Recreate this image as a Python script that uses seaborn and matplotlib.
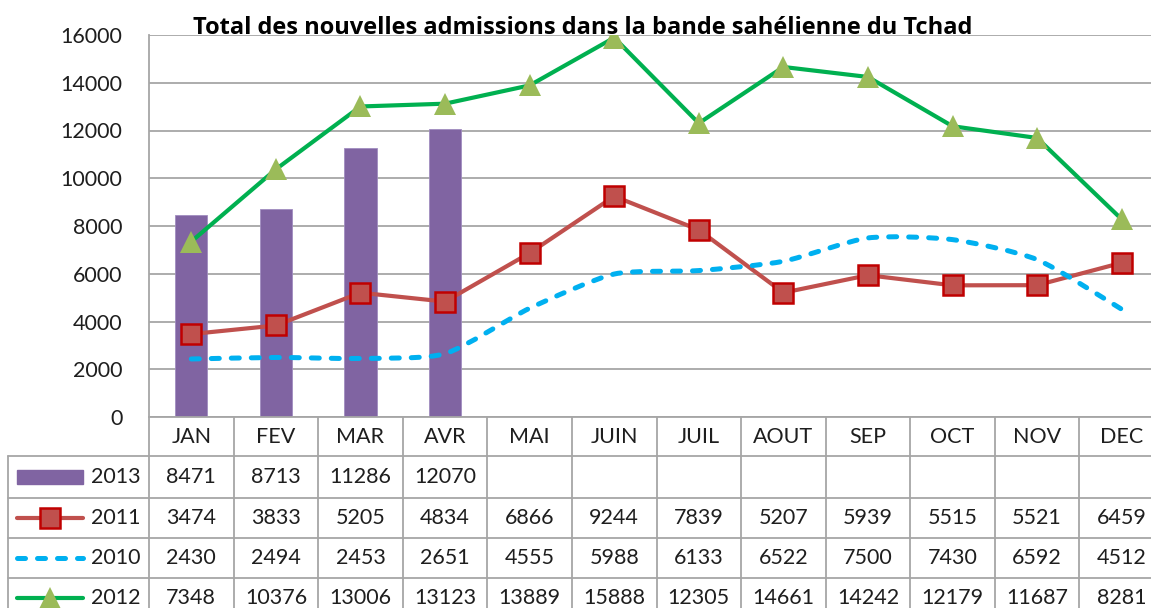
import numpy as np
import pandas as pd
import matplotlib
matplotlib.use("Agg")
import matplotlib.pyplot as plt
import seaborn as sns
from matplotlib.path import Path
from matplotlib.patches import PathPatch, Rectangle
from matplotlib.lines import Line2D
from matplotlib.transforms import blended_transform_factory

# ---------------- data ----------------
months = ["JAN", "FEV", "MAR", "AVR", "MAI", "JUIN", "JUIL", "AOUT", "SEP", "OCT", "NOV", "DEC"]
v2013 = [8471, 8713, 11286, 12070, np.nan, np.nan, np.nan, np.nan, np.nan, np.nan, np.nan, np.nan]
v2011 = [3474, 3833, 5205, 4834, 6866, 9244, 7839, 5207, 5939, 5515, 5521, 6459]
v2010 = [2430, 2494, 2453, 2651, 4555, 5988, 6133, 6522, 7500, 7430, 6592, 4512]
v2012 = [7348, 10376, 13006, 13123, 13889, 15888, 12305, 14661, 14242, 12179, 11687, 8281]
series_names = ["2013", "2011", "2010", "2012"]
yticks = list(range(0, 16001, 2000))
title = "Total des nouvelles admissions dans la bande sahélienne du Tchad"

C_BAR = "#8064A2"
C_2011 = "#C0504D"
C_2011_EDGE = "#C00000"
C_2010 = "#00B0F0"
C_2012 = "#00B050"
C_2012_MK = "#9BBB59"
C_GRID = "#A6A6A6"
C_TXT = "#1E1E1E"
FS = 15.5

sns.set_theme(style="white")
plt.rcParams["font.family"] = ["Lato", "DejaVu Sans"]

W, H = 1151, 608
fig = plt.figure(figsize=(W / 100, H / 100), dpi=100)
fig.patch.set_facecolor("white")

PL, PR, PT, PB = 149, 1164, 35, 417
ax = fig.add_axes([PL / W, (H - PB) / H, (PR - PL) / W, (PB - PT) / H])
ax.set_facecolor("white")

x = np.arange(len(months))
df = pd.DataFrame({"month": months, "v": v2013})
sns.barplot(data=df, x="month", y="v", order=months, ax=ax, color=C_BAR,
            saturation=1, width=0.38, edgecolor="#A08CC0", linewidth=0.6, zorder=2)

sns.lineplot(x=x, y=v2011, ax=ax, color=C_2011, lw=3.0, marker="s", markersize=14,
             markerfacecolor=C_2011, markeredgecolor=C_2011_EDGE, markeredgewidth=1.8,
             zorder=3, legend=False)

# smoothed (Excel-style) curve for 2010
P = np.column_stack([x, np.array(v2010, dtype=float)])
verts = [P[0]]
codes = [Path.MOVETO]
n = len(P)
k = 1.0 / 9.0
for i in range(n - 1):
    p0 = P[i - 1] if i > 0 else P[i]
    p1 = P[i]
    p2 = P[i + 1]
    p3 = P[i + 2] if i + 2 < n else P[i + 1]
    c1 = p1 + (p2 - p0) * k
    c2 = p2 - (p3 - p1) * k
    verts += [c1, c2, p2]
    codes += [Path.CURVE4] * 3
DASH = (0, (1.6, 2.4))
patch = PathPatch(Path(verts, codes), fill=False, edgecolor=C_2010, lw=3.6,
                  linestyle=DASH, capstyle="round", zorder=4)
ax.add_patch(patch)

sns.lineplot(x=x, y=v2012, ax=ax, color=C_2012, lw=3.0, marker="^", markersize=16,
             markerfacecolor=C_2012_MK, markeredgecolor=C_2012_MK, markeredgewidth=0,
             zorder=5, legend=False)

ax.set_xlim(-0.5, len(months) - 0.5)
ax.set_ylim(0, 16000)
ax.set_yticks(yticks)
ax.set_yticklabels([str(t) for t in yticks], fontsize=FS, color=C_TXT)
ax.tick_params(axis="y", length=0, pad=19)
ax.set_xticks([])
ax.set_xlabel("")
ax.set_ylabel("")
ax.yaxis.grid(True, color=C_GRID, lw=1.3)
ax.xaxis.grid(False)
ax.set_axisbelow(True)
for s in ["top", "right"]:
    ax.spines[s].set_visible(False)
for s in ["left", "bottom"]:
    ax.spines[s].set_color(C_GRID)
    ax.spines[s].set_linewidth(1.3)

# title
fig.text(583 / W, (H - 34) / H, title, ha="center", va="baseline",
         fontsize=17, fontweight="bold", color="black", family=["Open Sans", "DejaVu Sans"],
         zorder=1)

# ---------------- data table ----------------
ov = fig.add_axes([0, 0, 1, 1], zorder=10)
ov.set_xlim(0, W)
ov.set_ylim(H, 0)
ov.axis("off")
ov.patch.set_alpha(0)
bt = blended_transform_factory(ax.transData, ov.transData)

row_lines = [456, 497.5, 537.5, 578]
row_centers = [477, 517.5, 557.5, 598]
hdr_center = 437
lc = dict(color=C_GRID, lw=1.3)

for i in range(len(months) + 1):
    ov.add_line(Line2D([i - 0.5, i - 0.5], [PB, H], transform=bt, clip_on=False, **lc))
for yl in row_lines:
    ov.add_line(Line2D([8, W], [yl, yl], **lc))
ov.add_line(Line2D([8, 8], [row_lines[0], H], **lc))

for i, m in enumerate(months):
    ov.text(i, hdr_center, m, transform=bt, ha="center", va="center",
            fontsize=FS, color=C_TXT)

rows = [v2013, v2011, v2010, v2012]
for r, (name, vals) in enumerate(zip(series_names, rows)):
    yc = row_centers[r]
    ov.text(141, yc, name, ha="right", va="center", fontsize=FS, color=C_TXT)
    for i, v in enumerate(vals):
        if not np.isnan(v):
            ov.text(i, yc, f"{int(v)}", transform=bt, ha="center", va="center",
                    fontsize=FS, color=C_TXT)

# legend keys
kx0, kx1, kxm = 17, 83, 50
ov.add_patch(Rectangle((kx0, row_centers[0] - 7), kx1 - kx0, 14, color=C_BAR))
ov.add_line(Line2D([kx0, kx1], [row_centers[1]] * 2, color=C_2011, lw=3.0))
ov.add_line(Line2D([kxm], [row_centers[1]], marker="s", markersize=14, color=C_2011,
                   markerfacecolor=C_2011, markeredgecolor=C_2011_EDGE, markeredgewidth=1.8))
ov.add_line(Line2D([kx0, kx1], [row_centers[2]] * 2, color=C_2010, lw=3.6,
                   linestyle=DASH, dash_capstyle="round"))
ov.add_line(Line2D([kx0, kx1], [row_centers[3]] * 2, color=C_2012, lw=3.0))
ov.add_line(Line2D([kxm], [row_centers[3]], marker="^", markersize=16,
                   markerfacecolor=C_2012_MK, markeredgecolor=C_2012_MK, markeredgewidth=0))

fig.savefig("out.png", dpi=100, facecolor="white")
